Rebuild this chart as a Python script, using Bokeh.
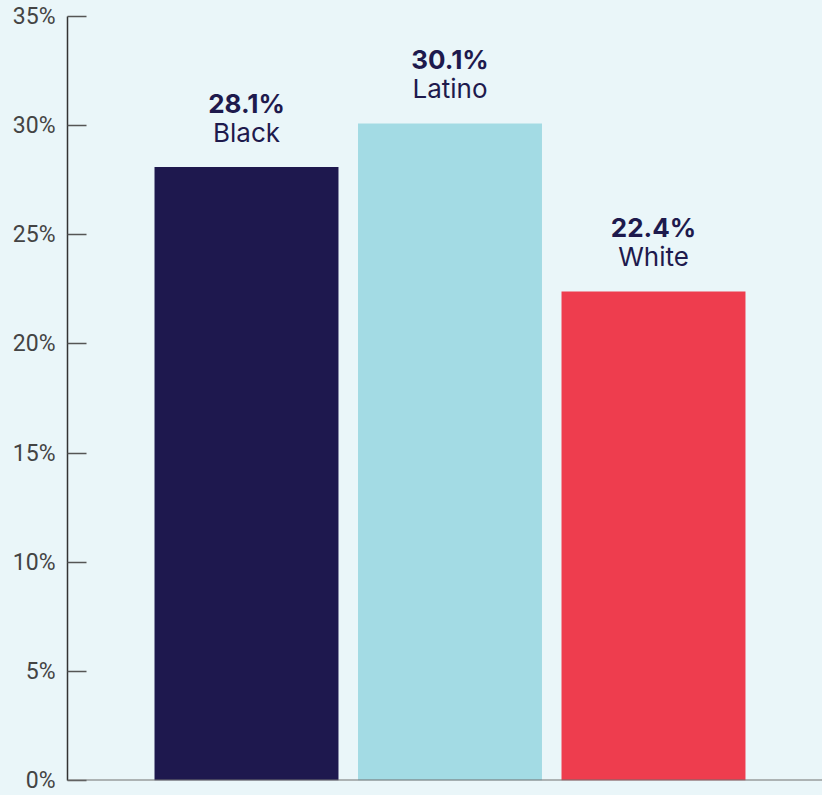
from bokeh.plotting import figure
from bokeh.models import ColumnDataSource, Range1d, FixedTicker, PrintfTickFormatter, Span
from bokeh.core.properties import value
from bokeh.embed import file_html
from bokeh.resources import INLINE

# Data
categories = ["Black", "Latino", "White"]
shares = [28.1, 30.1, 22.4]
colors = ["#1E184E", "#A3DBE4", "#EE3D4E"]
y_ticks = [0, 5, 10, 15, 20, 25, 30, 35]

BG = "#EAF6F9"
NAVY = "#1E1A4D"

positions = list(range(1, len(categories) + 1))
src = ColumnDataSource(dict(
    x=positions,
    y=shares,
    color=colors,
    cat=categories,
    val=[f"{v:.1f}%" for v in shares],
))

p = figure(width=822, height=795, output_backend="svg", toolbar_location=None,
           x_range=Range1d(0.1204, 3.8305), y_range=Range1d(0, 35),
           min_border_left=67, min_border_right=0, min_border_top=16, min_border_bottom=15)

p.background_fill_color = BG
p.border_fill_color = BG
p.outline_line_color = None
p.xgrid.visible = False
p.ygrid.visible = False
p.xaxis.visible = False

p.vbar(x="x", top="y", width=0.904, bottom=0, color="color", line_color=None, source=src)

# baseline
p.add_layout(Span(location=0, dimension="width", line_color="#707070", line_width=2))

# y axis
ya = p.yaxis[0]
ya.ticker = FixedTicker(ticks=y_ticks)
ya.formatter = PrintfTickFormatter(format="%d%%")
ya.axis_line_color = "#333333"
ya.axis_line_width = 1.5
ya.major_tick_line_color = "#555555"
ya.major_tick_line_width = 1.5
ya.major_tick_in = 19
ya.major_tick_out = 0
ya.minor_tick_line_color = None
ya.major_label_standoff = 12
ya.major_label_text_font = "Roboto"
ya.major_label_text_font_size = "23px"
ya.major_label_text_color = "#444444"

# bar labels
p.text(x="x", y="y", text="val", source=src, y_offset=-64,
       text_align="center", text_baseline="alphabetic",
       text_font=value("Inter"), text_font_style="bold",
       text_font_size="26px", text_color=NAVY)
p.text(x="x", y="y", text="cat", source=src, y_offset=-35,
       text_align="center", text_baseline="alphabetic",
       text_font=value("Inter"), text_font_size="26px", text_color=NAVY)

html = file_html(p, INLINE)
html = html.replace("<head>", "<head><style>html,body{background:#EAF6F9;}</style>", 1)
open("out.html", "w").write(html)
